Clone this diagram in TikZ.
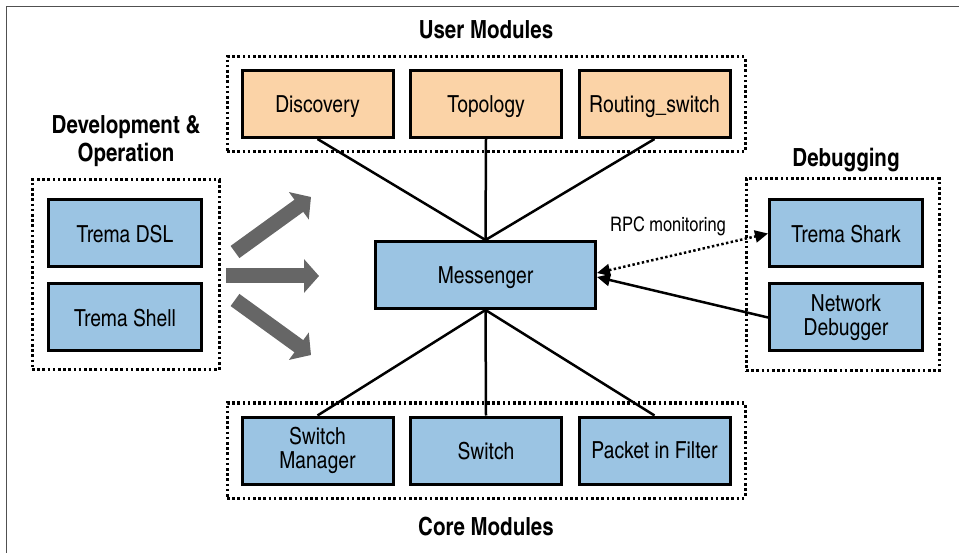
\documentclass[tikz,border=0pt]{standalone}
\usepackage{fontspec}
\setmainfont{texgyreheroscn}[Extension=.otf, UprightFont=*-regular, BoldFont=*-bold]
\usetikzlibrary{shapes, positioning, arrows.meta, calc, backgrounds}

\definecolor{boxblue}{RGB}{155,196,227}
\definecolor{boxorange}{RGB}{251,211,167}
\definecolor{arrowgray}{RGB}{102,102,102}
\definecolor{framegray}{RGB}{80,80,80}

\begin{document}
\begin{tikzpicture}[
    x=1pt, y=-1pt,
    module/.style={
        rectangle,
        draw=black,
        line width=3pt,
        fill=boxblue,
        minimum width=151pt,
        minimum height=67pt,
        align=center,
        font=\fontsize{23.5}{24}\selectfont
    },
    usermodule/.style={
        module,
        fill=boxorange
    },
    one_line/.style={
        text depth=0pt
    },
    group/.style={
        rectangle,
        draw=black,
        line width=3pt,
        dash pattern=on 2.6pt off 2.6pt,
        inner sep=0pt
    },
    title/.style={
        font=\fontsize{25}{28}\selectfont\bfseries,
        align=center
    },
    link/.style={
        line width=2.5pt
    },
    fat_arrow/.style={
        line width=15pt,
        color=arrowgray,
        -{Triangle[length=15pt, width=33pt]}
    },
    rpc/.style={
        line width=2.5pt,
        dash pattern=on 2.4pt off 2.4pt,
        {Triangle[length=13pt, width=12pt]}-{Triangle[length=13pt, width=12pt]}
    },
    call/.style={
        line width=2.5pt,
        -{Triangle[length=13pt, width=12pt]}
    }
]

    \useasboundingbox (0,0) rectangle (959,553);

    % -- Frame --
    \draw[framegray, line width=1.8pt] (6.5,553) -- (6.5,6.5) -- (959,6.5);

    % -- Groups --
    \node[group, minimum width=518pt, minimum height=95pt] (user_group) at (486,104.5) {};
    \node[group, minimum width=518pt, minimum height=95pt] (core_group) at (486,450.5) {};
    \node[group, minimum width=187pt, minimum height=190pt] (dev_group) at (125.5,275) {};
    \node[group, minimum width=193pt, minimum height=192pt] (debug_group) at (842.5,275) {};

    \node[title] (label_user) at (486,30) {User Modules};
    \node[title] (label_dev) at (126,141) {Development \&\\Operation};
    \node[title, one_line] (label_debug) at (846,157) {Debugging};
    \node[title] (label_core) at (486,527) {Core Modules};

    % -- User Modules --
    \node[usermodule, one_line] (discovery) at (317.5,104) {Discovery};
    \node[usermodule, one_line, right=14.5pt of discovery] (topology) {Topology};
    \node[usermodule, one_line, right=14.5pt of topology] (routing) {Routing\_switch};

    % -- Core Modules --
    \node[module] (switch_manager) at (317.5,450.5) {Switch\\Manager};
    \node[module, one_line, right=14.5pt of switch_manager] (switch) {Switch};
    \node[module, one_line, right=14.5pt of switch] (packet_filter) {Packet in Filter};

    % -- Development & Operation --
    \node[module, one_line, minimum width=153pt] (trema_dsl) at (125,233.5) {Trema DSL};
    \node[module, one_line, minimum width=153pt, below=14pt of trema_dsl] (trema_shell) {Trema Shell};

    % -- Debugging --
    \node[module, one_line, minimum width=153pt] (trema_shark) at (846,233.5) {Trema Shark};
    \node[module, minimum width=153pt, below=14pt of trema_shark] (net_debugger) {Network\\Debugger};

    % -- Messenger --
    \node[module, one_line, minimum width=220pt] (messenger) at (485.5,275) {Messenger};

    % Links to the modules
    \draw[link] (messenger.north) -- (discovery.south);
    \draw[link] (messenger.north) -- (topology.south);
    \draw[link] (messenger.north) -- (routing.south);
    \draw[link] (messenger.south) -- (switch_manager.north);
    \draw[link] (messenger.south) -- (switch.north);
    \draw[link] (messenger.south) -- (packet_filter.north);

    % Fat arrows from development tools
    \coordinate (up_tail) at (235,252);
    \coordinate (up_tip) at (311,197);
    \coordinate (mid_tail) at (226,276);
    \coordinate (mid_tip) at (319,276);
    \coordinate (low_tail) at (235,300);
    \coordinate (low_tip) at (311,355);
    \draw[fat_arrow] (up_tail) -- (up_tip);
    \draw[fat_arrow] (mid_tail) -- (mid_tip);
    \draw[fat_arrow] (low_tail) -- (low_tip);

    % Debugging connections
    \draw[rpc] ([yshift=2pt]messenger.east) -- (trema_shark.west);
    \node[font=\fontsize{20}{22}\selectfont] (rpc_label) at (668,226) {RPC monitoring};
    \draw[call] (net_debugger.west) -- ([yshift=-2pt]messenger.east);

\end{tikzpicture}
\end{document}
